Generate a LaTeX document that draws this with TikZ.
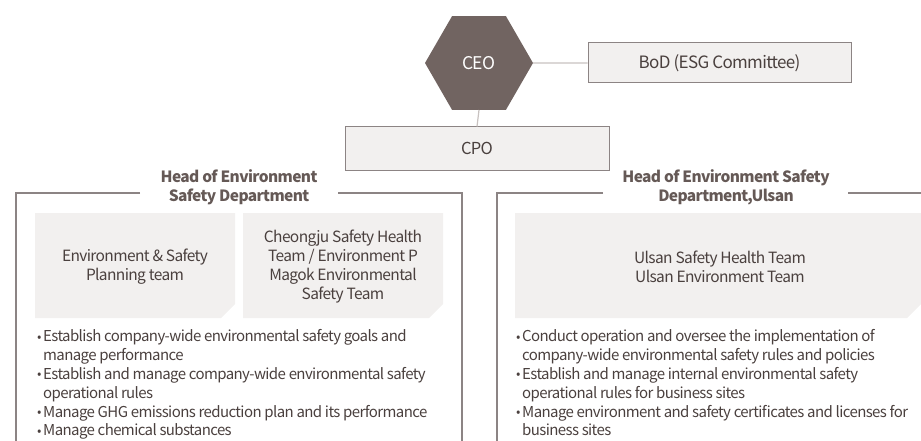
\documentclass[tikz,border=0pt]{standalone}
\usepackage{fontspec}
\setmainfont{Noto Sans CJK KR}[LetterSpace=-4]
\usetikzlibrary{shapes.geometric}
\definecolor{hexfill}{HTML}{716461}
\definecolor{boxfill}{HTML}{F2F0EF}
\definecolor{boxline}{HTML}{8C8484}
\definecolor{frameline}{HTML}{8C8484}
\definecolor{linkline}{HTML}{C8C2C0}
\definecolor{txt}{HTML}{4A403E}
\definecolor{ttl}{HTML}{655956}
\tikzset{
  topbox/.style={draw=boxline, line width=1pt, fill=boxfill},
  boxtext/.style={text=txt, font=\fontsize{15.5}{19}\selectfont, align=center, inner sep=0pt},
  titletext/.style={text=ttl, font=\fontsize{15.5}{19}\selectfont\bfseries, align=center, inner sep=0pt},
  bullettext/.style={text=txt, font=\fontsize{15}{18.8}\selectfont, align=left, inner sep=0pt, anchor=north west},
  framel/.style={draw=frameline, line width=1.3pt},
  link/.style={draw=linkline, line width=1.2pt},
  teambox/.style={fill=boxfill}
}
\newcommand{\bul}{\makebox[6pt][l]{\raisebox{0.8pt}{\fontsize{13}{13}\selectfont•}}}
\newcommand{\ind}{\hspace*{6pt}}
\begin{document}
\begin{tikzpicture}[x=1pt,y=-1pt]
\useasboundingbox (0,0) rectangle (921,441);
% top
\node[regular polygon, regular polygon sides=6, minimum size=108pt, inner sep=0pt, fill=hexfill, text=white, font=\fontsize{17.5}{20}\selectfont] (ceo) at (479,63) {CEO};
\node[topbox, minimum width=263pt, minimum height=40pt, inner sep=0pt] (bod) at (719.5,63) {};
\node[boxtext, font=\fontsize{17}{20}\selectfont] (bodt) at (bod.center) {BoD (ESG Committee)};
\node[topbox, minimum width=264pt, minimum height=43pt, inner sep=0pt] (cpo) at (477,148.5) {};
\node[boxtext, font=\fontsize{16.5}{20}\selectfont] (cpot) at (cpo.center) {CPO};
\draw[link] (ceo.east) -- (bod.west);
\draw[link] (ceo.south) -- (cpo.north);
% left frame
\coordinate (l1) at (140,193);
\coordinate (l2) at (16,193);
\coordinate (l3) at (16,441);
\coordinate (l4) at (338,193);
\coordinate (l5) at (462,193);
\coordinate (l6) at (462,441);
\draw[framel] (l1) -- (l2) -- (l3);
\draw[framel] (l4) -- (l5) -- (l6);
\node[titletext] (lt) at (239,187.5) {Head of Environment\\Safety Department};
% right frame
\coordinate (r1) at (603,193);
\coordinate (r2) at (497,193);
\coordinate (r3) at (497,441);
\coordinate (r4) at (848,193);
\coordinate (r5) at (921,193);
\draw[framel] (r1) -- (r2) -- (r3);
\draw[framel] (r4) -- (r5);
\node[titletext] (rt) at (726,187.5) {Head of Environment Safety\\Department,Ulsan};
% team boxes
\fill[teambox] (35,213) -- (235,213) -- (235,304) -- (221,318) -- (35,318) -- cycle;
\fill[teambox] (243,213) -- (443,213) -- (443,304) -- (429,318) -- (243,318) -- cycle;
\fill[teambox] (515,213) -- (921,213) -- (921,304) -- (907,318) -- (515,318) -- cycle;
\node[boxtext] (t1) at (135,267) {Environment \& Safety\\Planning team};
\node[boxtext] (t2) at (343,267) {Cheongju Safety Health\\Team / Environment P\\Magok Environmental\\Safety Team};
\node[boxtext] (t3) at (720,267) {Ulsan Safety Health Team\\Ulsan Environment Team};
% bullets
\node[bullettext] (lb) at (37,329.5) {\bul Establish company-wide environmental safety goals and\\\ind manage performance\\\bul Establish and manage company-wide environmental safety\\\ind operational rules\\\bul Manage GHG emissions reduction plan and its performance\\\bul Manage chemical substances};
\node[bullettext] (rb) at (516,329.5) {\bul Conduct operation and oversee the implementation of\\\ind company-wide environmental safety rules and policies\\\bul Establish and manage internal environmental safety\\\ind operational rules for business sites\\\bul Manage environment and safety certificates and licenses for\\\ind business sites};
\end{tikzpicture}
\end{document}
